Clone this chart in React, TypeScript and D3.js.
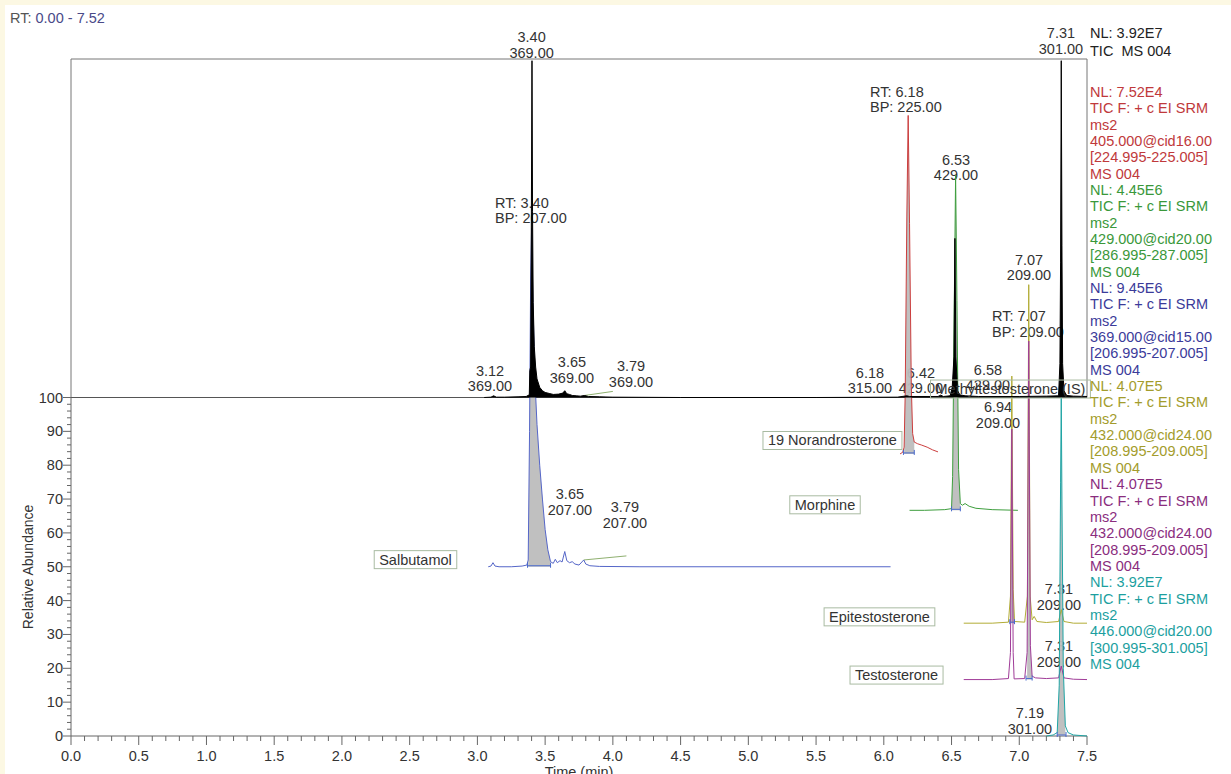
import React from 'react';
import * as d3 from 'd3';

type Pt = [number, number];

// ---------- data ----------
const timeDomain: [number, number] = [0, 7.5];
const abundanceDomain: [number, number] = [0, 200]; // 0-100 stacked SRM panel, 100-200 TIC panel
const yTickValues = [0, 10, 20, 30, 40, 50, 60, 70, 80, 90, 100];
const xTickValues = [0, 0.5, 1, 1.5, 2, 2.5, 3, 3.5, 4, 4.5, 5, 5.5, 6, 6.5, 7, 7.5];

const ticBaseline = 100;
const ticTrace: Pt[] = [
  [3.05, 0], [3.1, 0.1], [3.12, 0.5], [3.14, 0.1], [3.2, 0.1], [3.3, 0.2], [3.36, 0.3],
  [3.383, 0.8], [3.387, 8], [3.393, 9], [3.397, 40], [3.403, 99.5], [3.407, 55], [3.412, 28],
  [3.42, 15], [3.43, 9], [3.44, 5.5], [3.46, 3], [3.48, 2], [3.5, 1.5], [3.53, 1.2], [3.56, 0.9],
  [3.6, 1.0], [3.63, 1.3], [3.645, 2.0], [3.66, 1.1], [3.68, 0.9], [3.7, 0.6], [3.73, 0.5],
  [3.76, 0.4], [3.79, 0.6], [3.82, 0.3], [3.9, 0.2], [4.0, 0.1], [4.5, 0], [5.5, 0], [6.1, 0.1],
  [6.17, 0.5], [6.19, 0.3], [6.4, 0.3], [6.42, 0.7], [6.44, 0.3], [6.49, 0.5], [6.505, 3],
  [6.518, 12], [6.525, 47], [6.532, 12], [6.545, 2], [6.56, 0.8], [6.6, 0.5], [6.7, 0.3],
  [7.0, 0.3], [7.2, 0.4], [7.29, 0.5], [7.3, 10], [7.305, 40], [7.31, 99.5], [7.315, 45],
  [7.32, 10], [7.33, 2], [7.35, 0.6], [7.4, 0.4], [7.5, 0.3],
];

const salbutamolTrace: Pt[] = [
  [3.08, 0], [3.1, 0.2], [3.115, 1.2], [3.13, 0.2], [3.16, 0], [3.25, 0], [3.33, 0.2], [3.365, 0.5],
  [3.375, 2], [3.385, 40], [3.393, 85], [3.4, 100], [3.41, 78], [3.425, 55], [3.44, 42], [3.46, 30],
  [3.48, 20], [3.5, 11], [3.52, 5], [3.54, 1.5], [3.56, 1], [3.575, 2.2], [3.59, 1.2], [3.61, 1.8],
  [3.625, 1.4], [3.645, 4.5], [3.66, 1.8], [3.68, 1.2], [3.7, 1.5], [3.72, 0.8], [3.75, 0.5],
  [3.785, 2.0], [3.8, 0.8], [3.83, 0.3], [3.9, 0.1], [4.2, 0], [6.05, 0],
];
const norandrosteroneTrace: Pt[] = [
  [6.12, 0], [6.14, 0.5], [6.15, 2], [6.158, 18], [6.17, 70], [6.18, 100], [6.19, 68], [6.203, 20],
  [6.213, 6], [6.225, 3.5], [6.25, 3], [6.28, 2.6], [6.32, 2], [6.36, 1.2], [6.4, 0.6],
];
const morphineTrace: Pt[] = [
  [6.19, 0], [6.3, 0], [6.45, 0.2], [6.5, 0.5], [6.508, 10], [6.52, 60], [6.53, 99], [6.54, 62],
  [6.552, 12], [6.565, 2], [6.58, 1.5], [6.6, 2], [6.63, 1.2], [6.68, 0.6], [6.8, 0.2], [6.99, 0],
];
const epitestosteroneTrace: Pt[] = [
  [6.59, 0], [6.8, 0], [6.92, 0.3], [6.935, 8], [6.945, 73], [6.955, 10], [6.965, 0.5], [7.04, 0.3],
  [7.06, 8], [7.07, 100], [7.08, 8], [7.095, 1], [7.11, 2], [7.13, 0.5], [7.2, 0.2], [7.29, 0.5],
  [7.31, 4], [7.33, 0.5], [7.4, 0], [7.5, 0],
];
const testosteroneTrace: Pt[] = [
  [6.59, 0], [6.8, 0], [6.92, 0.3], [6.935, 8], [6.945, 74], [6.955, 8], [6.962, 0.2], [7.04, 0.3],
  [7.058, 8], [7.07, 100], [7.082, 10], [7.095, 1], [7.12, 0.5], [7.2, 0.3], [7.29, 0.5], [7.31, 4],
  [7.33, 0.5], [7.4, 0.1], [7.5, 0],
];
const methyltestosteroneTrace: Pt[] = [
  [7.2, 0], [7.25, 0.3], [7.28, 1], [7.295, 15], [7.305, 75], [7.31, 100], [7.315, 70], [7.325, 20],
  [7.34, 3], [7.36, 1], [7.4, 0.3], [7.5, 0],
];

const compoundNames = ['Salbutamol', '19 Norandrosterone', 'Morphine', 'Epitestosterone', 'Testosterone', 'Methyltestosterone (IS)'];
const traceOffsets = [50, 83.33, 66.67, 33.33, 16.67, 0];
const integrationRanges: [number, number][] = [[3.37, 3.54], [6.145, 6.225], [6.5, 6.565], [6.93, 6.965], [7.05, 7.095], [7.28, 7.345]];
// box anchor (time, abundance) of each compound name box
const nameBoxAnchors: Pt[] = [[2.543, 52.1], [5.621, 87.3], [5.566, 68.3], [5.968, 35.2], [6.094, 18.0], [6.935, 102.5]];

// peak annotations: anchor time, abundance of last baseline, lines, alignment
const peakLabels: { t: number; v: number; lines: string[]; anchor: 'middle' | 'start' }[] = [
  { t: 3.4, v: 200.3, lines: ['3.40', '369.00'], anchor: 'middle' },
  { t: 3.13, v: 151.5, lines: ['RT: 3.40', 'BP: 207.00'], anchor: 'start' },
  { t: 3.093, v: 101.8, lines: ['3.12', '369.00'], anchor: 'middle' },
  { t: 3.698, v: 104.4, lines: ['3.65', '369.00'], anchor: 'middle' },
  { t: 4.134, v: 103.2, lines: ['3.79', '369.00'], anchor: 'middle' },
  { t: 3.683, v: 65.4, lines: ['3.65', '207.00'], anchor: 'middle' },
  { t: 4.089, v: 61.5, lines: ['3.79', '207.00'], anchor: 'middle' },
  { t: 5.898, v: 184.3, lines: ['RT: 6.18', 'BP: 225.00'], anchor: 'start' },
  { t: 5.898, v: 101.2, lines: ['6.18', '315.00'], anchor: 'middle' },
  { t: 6.274, v: 101.2, lines: ['6.42', '429.00'], anchor: 'middle' },
  { t: 6.533, v: 164.2, lines: ['6.53', '429.00'], anchor: 'middle' },
  { t: 6.769, v: 102.1, lines: ['6.58', '429.00'], anchor: 'middle' },
  { t: 7.072, v: 134.6, lines: ['7.07', '209.00'], anchor: 'middle' },
  { t: 6.799, v: 118.0, lines: ['RT: 7.07', 'BP: 209.00'], anchor: 'start' },
  { t: 6.843, v: 91.1, lines: ['6.94', '209.00'], anchor: 'middle' },
  { t: 7.293, v: 37.3, lines: ['7.31', '209.00'], anchor: 'middle' },
  { t: 7.293, v: 20.4, lines: ['7.31', '209.00'], anchor: 'middle' },
  { t: 7.079, v: 0.6, lines: ['7.19', '301.00'], anchor: 'middle' },
  { t: 7.308, v: 201.5, lines: ['7.31', '301.00'], anchor: 'middle' },
];
// leader lines: [peak time, peak abundance, label time, label abundance]
const leaderLines: [number, number, number, number][] = [
  [3.79, 100.6, 4.0, 101.8],
  [3.785, 52.0, 4.1, 53.2],
];

const ticLegend = ['NL: 3.92E7', 'TIC\u00a0\u00a0MS 004'];
const srmLegend: string[][] = [
  ['NL: 7.52E4', 'TIC F: + c EI SRM', 'ms2', '405.000@cid16.00', '[224.995-225.005]', 'MS 004'],
  ['NL: 4.45E6', 'TIC F: + c EI SRM', 'ms2', '429.000@cid20.00', '[286.995-287.005]', 'MS 004'],
  ['NL: 9.45E6', 'TIC F: + c EI SRM', 'ms2', '369.000@cid15.00', '[206.995-207.005]', 'MS 004'],
  ['NL: 4.07E5', 'TIC F: + c EI SRM', 'ms2', '432.000@cid24.00', '[208.995-209.005]', 'MS 004'],
  ['NL: 4.07E5', 'TIC F: + c EI SRM', 'ms2', '432.000@cid24.00', '[208.995-209.005]', 'MS 004'],
  ['NL: 3.92E7', 'TIC F: + c EI SRM', 'ms2', '446.000@cid20.00', '[300.995-301.005]', 'MS 004'],
];

// ---------- styles ----------
const FONT = '"Liberation Sans", Arial, Helvetica, sans-serif';
const FS = 14.5;
const traceColors = ['#5566c8', '#cc3e3e', '#3e9e3e', '#b2ac36', '#a03c98', '#1fa5a5'];
const legendColors = ['#c0393b', '#3a983a', '#3b3b9a', '#a39c2c', '#8a2d7e', '#1c9f9f'];
const traceList = [salbutamolTrace, norandrosteroneTrace, morphineTrace, epitestosteroneTrace, testosteroneTrace, methyltestosteroneTrace];

let _ctx: CanvasRenderingContext2D | null = null;
function textWidth(s: string, size: number) {
  if (!_ctx) _ctx = document.createElement('canvas').getContext('2d');
  if (!_ctx) return s.length * size * 0.55;
  _ctx.font = `${size}px "Liberation Sans", Arial, sans-serif`;
  return _ctx.measureText(s).width;
}

export default function App() {
  const W = 1231, H = 774;
  const x = d3.scaleLinear().domain(timeDomain).range([71, 1087]);
  const y = d3.scaleLinear().domain(abundanceDomain).range([736, 59]);

  const lineFor = (off: number) =>
    d3.line<Pt>().x(d => x(d[0])).y(d => y(d[1] + off));
  const areaFor = (off: number) =>
    d3.area<Pt>().x(d => x(d[0])).y0(y(off)).y1(d => y(d[1] + off));

  const minorX = d3.range(0, 75.01, 1).map(i => i / 10);
  const minorY = d3.range(0, 101, 2);
  const fmt = d3.format('.1f');
  const lh = 15.5;
  const axisColor = '#666';

  return (
    <svg width={W} height={H} style={{ position: 'absolute', left: 0, top: 0 }} fontFamily={FONT}>
      <rect width={W} height={H} fill="#fcf8e3" />
      <rect x={5} y={5} width={W - 5} height={H - 5} fill="#ffffff" />

      <text x={10} y={23} fontSize={FS} fill="#555">RT: <tspan fill="#4a4a88">0.00 - 7.52</tspan></text>

      {/* TIC panel frame */}
      <path d={`M${x(0)},${y(100)}V${y(200)}H${x(7.5)}V${y(100)}`} fill="none" stroke="#777" strokeWidth={1} />
      <line x1={x(0)} x2={x(7.5)} y1={y(100)} y2={y(100)} stroke="#555" strokeWidth={1} />

      {/* y axis */}
      <line x1={x(0)} x2={x(0)} y1={y(0)} y2={y(100)} stroke={axisColor} />
      {minorY.map(v => (
        <line key={'my' + v} x1={x(0) - (v % 10 === 0 ? 8 : 4)} x2={x(0)} y1={y(v)} y2={y(v)} stroke={axisColor} />
      ))}
      {yTickValues.map(v => (
        <text key={'yl' + v} x={x(0) - 8} y={y(v) + 5} fontSize={FS} textAnchor="end" fill="#333">{v}</text>
      ))}
      <text transform={`translate(33,567) rotate(-90)`} fontSize={14} textAnchor="middle" fill="#333">Relative Abundance</text>

      {/* x axis */}
      <line x1={x(0)} x2={x(7.5)} y1={y(0)} y2={y(0)} stroke={axisColor} />
      {minorX.map(t => (
        <line key={'mx' + t} x1={x(t)} x2={x(t)} y1={y(0)} y2={y(0) + (Math.round(t * 10) % 5 === 0 ? 9 : 5)} stroke={axisColor} />
      ))}
      {xTickValues.map(t => (
        <text key={'xl' + t} x={x(t)} y={761} fontSize={FS} textAnchor="middle" fill="#333">{fmt(t)}</text>
      ))}
      <text x={x(3.75)} y={777} fontSize={FS} textAnchor="middle" fill="#333">Time (min)</text>

      {/* peak labels */}
      {peakLabels.map((p, i) => {
        const n = p.lines.length;
        return (
          <text key={'pl' + i} x={x(p.t)} y={y(p.v)} fontSize={FS} textAnchor={p.anchor} fill="#333">
            {p.lines.map((s, k) => (
              <tspan key={k} x={x(p.t)} y={y(p.v) - (n - 1 - k) * lh}>{s}</tspan>
            ))}
          </text>
        );
      })}
      {leaderLines.map((l, i) => (
        <line key={'ll' + i} x1={x(l[0])} y1={y(l[1])} x2={x(l[2])} y2={y(l[3])} stroke="#8fb070" strokeWidth={1} />
      ))}

      {/* SRM traces: integrated areas then lines */}
      {traceList.map((tr, i) => {
        const [a, b] = integrationRanges[i];
        const seg = tr.filter(d => d[0] >= a && d[0] <= b);
        return <path key={'f' + i} d={areaFor(traceOffsets[i])(seg) || ''} fill="#bdbdbd" opacity={0.95} />;
      })}
      {traceList.map((tr, i) => (
        <path key={'t' + i} d={lineFor(traceOffsets[i])(tr) || ''} fill="none" stroke={traceColors[i]} strokeWidth={1} />
      ))}
      {traceList.map((tr, i) => {
        const [a, b] = integrationRanges[i];
        const y0 = y(traceOffsets[i]);
        return (
          <g key={'m' + i} stroke="#4a6acc" strokeWidth={1}>
            <line x1={x(a)} x2={x(a)} y1={y0 - 4} y2={y0 + 1} />
            <line x1={x(b)} x2={x(b)} y1={y0 - 4} y2={y0 + 1} />
            <line x1={x(a)} x2={x(b)} y1={y0 - 1} y2={y0 - 1} />
          </g>
        );
      })}

      {/* TIC trace */}
      <path d={areaFor(ticBaseline)(ticTrace) || ''} fill="#000" />
      <path d={lineFor(ticBaseline)(ticTrace) || ''} fill="none" stroke="#000" strokeWidth={1} />

      {/* compound name boxes */}
      {compoundNames.map((name, i) => {
        const w = textWidth(name, FS) + 10;
        const cx = x(nameBoxAnchors[i][0]);
        const cy = y(nameBoxAnchors[i][1]);
        return (
          <g key={'nb' + i}>
            <rect x={cx - w / 2} y={cy - 9} width={w} height={18} fill="none" stroke="#a9bba2" strokeWidth={1} />
            <text x={cx} y={cy + 5} fontSize={FS} textAnchor="middle" fill="#333">{name}</text>
          </g>
        );
      })}

      {/* legends */}
      {ticLegend.map((s, k) => (
        <text key={'tl' + k} x={1090} y={38 + k * 17.5} fontSize={FS} fill="#222">{s}</text>
      ))}
      {srmLegend.map((block, b) =>
        block.map((s, k) => (
          <text key={`sl${b}-${k}`} x={1090} y={97 + (b * 6 + k) * 16.34} fontSize={FS} fill={legendColors[b]}>{s}</text>
        ))
      )}
    </svg>
  );
}
